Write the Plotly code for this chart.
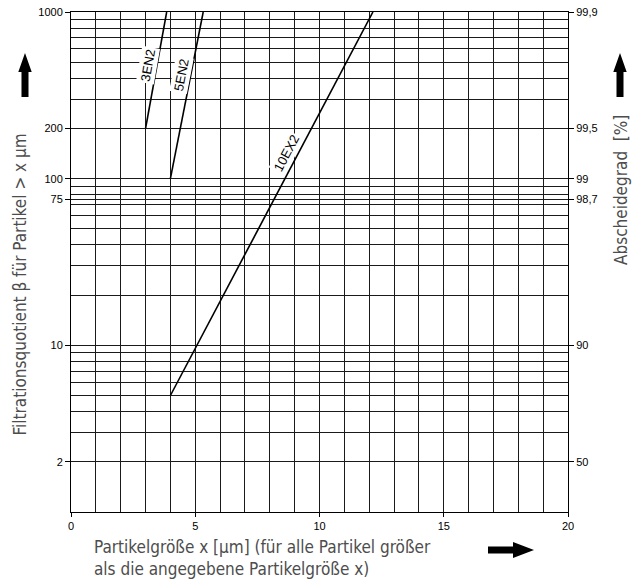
import math
import plotly.graph_objects as go

# ---- data ----
x_3en2 = [3.0, 3.85]
beta_3en2 = [200, 1000]
x_5en2 = [4.0, 5.32]
beta_5en2 = [100, 1000]
x_10ex2 = [4.0, 12.15]
beta_10ex2 = [5, 1000]

curve_labels = ["3EN2", "5EN2", "10EX2"]
label_x = [3.10, 4.45, 8.69]
label_beta = [477, 421, 143]
label_angle = [-80, -79, -62]

x_ticks = [0, 5, 10, 15, 20]
beta_ticks = [2, 10, 75, 100, 200, 1000]
beta_ticktext = ["2", "10", "75", "100", "200", "1000"]
eff_ticktext = ["50", "90", "98,7", "99", "99,5", "99,9"]
grid_beta = [1, 2, 3, 4, 5, 6, 7, 8, 9,
             10, 20, 30, 40, 50, 60, 70, 75, 80, 90,
             100, 200, 300, 400, 500, 600, 700, 800, 900, 1000]

W, H = 632, 583
ML, MR, MT, MB = 71, 64, 12, 71
PW, PH = W - ML - MR, H - MT - MB


def px(xp):
    return (xp - ML) / PW


def py(yp):
    return (H - MB - yp) / PH


line_col = "#1a1a1a"
tick_font = dict(family="Liberation Sans, Arial, sans-serif", size=11, color="black")
title_font = dict(family="Liberation Sans Narrow, DejaVu Sans Condensed, Open Sans, sans-serif",
                  size=17, color="#4d4d4d")

fig = go.Figure()
for xs, ys in [(x_3en2, beta_3en2), (x_5en2, beta_5en2), (x_10ex2, beta_10ex2)]:
    fig.add_trace(go.Scatter(x=xs, y=ys, mode="lines",
                             line=dict(color="black", width=1.6),
                             showlegend=False, hoverinfo="skip"))
fig.add_trace(go.Scatter(x=[None], y=[None], yaxis="y2", showlegend=False, hoverinfo="skip"))
fig.add_trace(go.Scatter(x=[None], y=[None], yaxis="y3", showlegend=False, hoverinfo="skip"))

annotations = []
for t, lx, lb, ang in zip(curve_labels, label_x, label_beta, label_angle):
    annotations.append(dict(x=lx, y=math.log10(lb), xref="x", yref="y", text=t,
                            showarrow=False, textangle=ang, bgcolor="white",
                            font=dict(family="Liberation Sans, Arial, sans-serif", size=13, color="black"),
                            borderpad=1))

annotations.append(dict(x=px(20), y=py(284.5), xref="paper", yref="paper",
                        text="Filtrationsquotient β für Partikel > x µm", textangle=-90,
                        showarrow=False, xanchor="center", yanchor="middle", font=title_font))
annotations.append(dict(x=px(621), y=py(190), xref="paper", yref="paper",
                        text="Abscheidegrad  [%]", textangle=-90,
                        showarrow=False, xanchor="center", yanchor="middle", font=title_font))
annotations.append(dict(x=px(92), y=py(535), xref="paper", yref="paper",
                        text="Partikelgröße x [µm] (für alle Partikel größer<br>als die angegebene Partikelgröße x)",
                        showarrow=False, xanchor="left", yanchor="top", align="left", font=title_font))


def up_arrow(cx):
    pts = [(cx - 3.5, 97), (cx - 3.5, 72), (cx - 6.7, 72), (cx, 53), (cx + 6.7, 72), (cx + 3.5, 72), (cx + 3.5, 97)]
    return "M " + " L ".join(f"{px(a):.5f},{py(b):.5f}" for a, b in pts) + " Z"


right_pts = [(488, 546.5), (513, 546.5), (513, 542), (534, 550), (513, 558), (513, 553.5), (488, 553.5)]
right_path = "M " + " L ".join(f"{px(a):.5f},{py(b):.5f}" for a, b in right_pts) + " Z"

shapes = []
for p in [up_arrow(25), up_arrow(620), right_path]:
    shapes.append(dict(type="path", path=p, xref="paper", yref="paper",
                       fillcolor="black", line=dict(width=0)))

fig.update_layout(
    width=W, height=H,
    margin=dict(l=ML, r=MR, t=MT, b=MB, autoexpand=False),
    plot_bgcolor="white", paper_bgcolor="white",
    xaxis=dict(range=[0, 20], tickvals=x_ticks, ticks="outside", ticklen=4, tickcolor="black",
               showgrid=True, gridcolor=line_col, gridwidth=1, automargin=False,
               minor=dict(dtick=1, showgrid=True, gridcolor=line_col, gridwidth=1),
               showline=True, linecolor="black", linewidth=1, mirror=True, zeroline=False,
               tickfont=tick_font),
    yaxis=dict(type="log", range=[0, 3], tickvals=beta_ticks, ticktext=beta_ticktext,
               ticks="outside", ticklen=5, tickcolor="black", automargin=False,
               showgrid=True, gridcolor=line_col, gridwidth=1,
               showline=True, linecolor="black", linewidth=1, mirror=True, zeroline=False,
               tickfont=tick_font),
    yaxis2=dict(type="log", range=[0, 3], overlaying="y", side="right", automargin=False,
                tickvals=beta_ticks, ticktext=eff_ticktext, ticks="outside", ticklen=5,
                tickcolor="black", showgrid=False, zeroline=False, tickfont=tick_font),
    yaxis3=dict(type="log", range=[0, 3], overlaying="y", side="left", automargin=False,
                tickvals=grid_beta, showticklabels=False, ticks="",
                showgrid=True, gridcolor=line_col, gridwidth=1, zeroline=False),
    annotations=annotations,
    shapes=shapes,
)

fig.write_html("out.html", config={"displayModeBar": False},
               post_script="document.body.style.margin='0';")
